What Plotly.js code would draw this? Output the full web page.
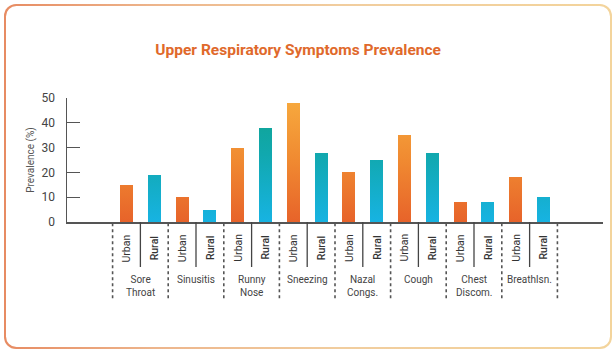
<!DOCTYPE html>
<html>
<head>
<meta charset="utf-8">
<script src="https://cdn.plot.ly/plotly-3.0.1.min.js"></script>
<style>
  html, body { margin: 0; padding: 0; background: #ffffff; }
  #wrap { position: relative; width: 616px; height: 352px; overflow: hidden; }
  #frame { position: absolute; left: 4px; top: 4px; width: 608px; height: 345px; border-radius: 12px;
           background: linear-gradient(90deg, #E78B62 0%, #EDB58C 25%, #F1CD9E 55%, #F3D49C 100%); }
  #frameInner { position: absolute; left: 1.6px; top: 1.6px; right: 1.6px; bottom: 1.6px; border-radius: 10.5px; background: #ffffff; }
  #chart { position: absolute; left: 0; top: 0; width: 616px; height: 352px; }
</style>
</head>
<body>
<svg width="0" height="0" style="position:absolute">
  <defs>
    <linearGradient id="gradUrban" gradientUnits="userSpaceOnUse" x1="0" y1="0" x2="0" y2="124">
      <stop offset="0" stop-color="#F7AA3E"/>
      <stop offset="0.5" stop-color="#F08A31"/>
      <stop offset="1" stop-color="#E7632A"/>
    </linearGradient>
    <linearGradient id="gradRural" gradientUnits="userSpaceOnUse" x1="0" y1="0" x2="0" y2="124">
      <stop offset="0" stop-color="#0FA38C"/>
      <stop offset="0.45" stop-color="#11A8AE"/>
      <stop offset="1" stop-color="#17B3E2"/>
    </linearGradient>
  </defs>
</svg>
<div id="wrap">
  <div id="frame"><div id="frameInner"></div></div>
  <div id="chart"></div>
</div>
<script>
// ---- data ----
var symptoms = ["Sore Throat", "Sinusitis", "Runny Nose", "Sneezing", "Nazal Congs.", "Cough", "Chest Discom.", "Breathlsn."];
var groups = ["Urban", "Rural"];
var urbanValues = [15, 10, 30, 48, 20, 35, 8, 18];
var ruralValues = [19, 5, 38, 28, 25, 28, 8, 10];
var yTickValues = [0, 10, 20, 30, 40, 50];
var chartTitle = "Upper Respiratory Symptoms Prevalence";
var yTitle = "Prevalence (%)";

// slot positions: each symptom has two slots (Urban, Rural)
var urbanX = symptoms.map(function (s, i) { return 2 * i; });
var ruralX = symptoms.map(function (s, i) { return 2 * i + 1; });

var traces = [
  { type: "bar", name: groups[0], x: urbanX, y: urbanValues, width: 0.47,
    marker: { color: "#EE8530", line: { width: 0 } }, hoverinfo: "y" },
  { type: "bar", name: groups[1], x: ruralX, y: ruralValues, width: 0.47,
    marker: { color: "#12AAC0", line: { width: 0 } }, hoverinfo: "y" }
];

var annotations = [];
var shapes = [];
symptoms.forEach(function (s, i) {
  annotations.push({ x: urbanX[i], y: -0.21, xref: "x", yref: "paper", text: groups[0], showarrow: false,
    textangle: -90, xanchor: "center", yanchor: "middle", font: { family: "Roboto, Arial, sans-serif", size: 10.5, color: "#333" } });
  annotations.push({ x: ruralX[i], y: -0.21, xref: "x", yref: "paper", text: groups[1], showarrow: false,
    textangle: -90, xanchor: "center", yanchor: "middle", font: { family: "Roboto, Arial, sans-serif", size: 10.5, color: "#333", weight: 500 } });
  annotations.push({ x: 2 * i + 0.5, y: -0.405, xref: "x", yref: "paper", text: s.replace(" ", "<br>"), showarrow: false,
    xanchor: "center", yanchor: "top", align: "center", font: { family: "Roboto, Arial, sans-serif", size: 10, color: "#444" } });
  shapes.push({ type: "line", xref: "x", yref: "paper", x0: 2 * i + 0.5, x1: 2 * i + 0.5, y0: 0, y1: -0.363,
    line: { color: "#444", width: 1.3 } });
});
for (var j = 0; j <= symptoms.length; j++) {
  shapes.push({ type: "line", xref: "x", yref: "paper", x0: 2 * j - 0.5, x1: 2 * j - 0.5, y0: -0.01, y1: -0.63,
    line: { color: "#555", width: 1.6, dash: "dot" } });
}

var layout = {
  width: 616, height: 352,
  margin: { l: 67, r: 13, t: 98, b: 130, pad: 0 },
  paper_bgcolor: "rgba(0,0,0,0)", plot_bgcolor: "rgba(0,0,0,0)",
  showlegend: false,
  title: { text: chartTitle, xref: "container", x: 0.484, yref: "container", y: 0.858, xanchor: "center", yanchor: "middle",
    font: { family: "Roboto, Arial, sans-serif", size: 15.5, weight: 700, color: "#E0692B" } },
  xaxis: { range: [-2.14, 17.14], showticklabels: false, ticks: "", showgrid: false, zeroline: false,
    showline: true, linecolor: "#555", linewidth: 1.5, fixedrange: true },
  yaxis: { range: [0, 50], tickvals: yTickValues, ticks: "inside", ticklen: 13, tickcolor: "#555", tickwidth: 1.3,
    showgrid: false, zeroline: false, showline: true, linecolor: "#555", linewidth: 1.5,
    ticklabelstandoff: 8,
    tickfont: { family: "Roboto, Arial, sans-serif", size: 12, color: "#444" },
    title: { text: yTitle, standoff: 5, font: { family: "Roboto, Arial, sans-serif", size: 10, color: "#555" } },
    fixedrange: true },
  annotations: annotations,
  shapes: shapes,
  bargap: 0
};

Plotly.newPlot("chart", traces, layout, { displayModeBar: false, staticPlot: true }).then(function (gd) {
  var barTraces = gd.querySelectorAll(".barlayer .trace");
  var grads = ["url(#gradUrban)", "url(#gradRural)"];
  barTraces.forEach(function (t, k) {
    t.querySelectorAll("path").forEach(function (p) { p.style.fill = grads[k]; });
  });
});
</script>
</body>
</html>
